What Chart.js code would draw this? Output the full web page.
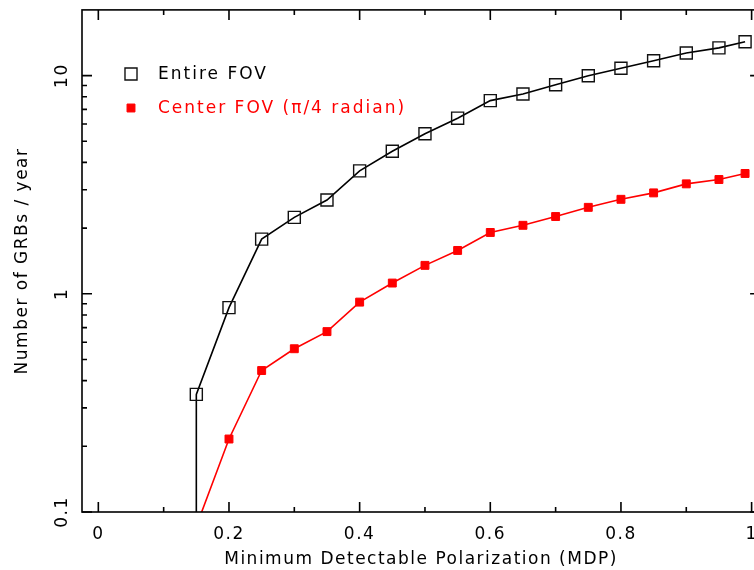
<!DOCTYPE html>
<html lang="en">
<head>
<meta charset="utf-8">
<title>GRB polarization rate</title>
<script src="https://cdn.jsdelivr.net/npm/chart.js@4.4.1/dist/chart.umd.min.js"></script>
<style>
  html, body { margin: 0; padding: 0; overflow: hidden; background: #fff; }
  #wrap { width: 754px; height: 570px; overflow: hidden; }
</style>
</head>
<body>
<div id="wrap"><canvas id="mdpChart" width="770" height="570"></canvas></div>
<script>
// MDP bins and rates (GRBs / year)
const mdp = [0.15, 0.20, 0.25, 0.30, 0.35, 0.40, 0.45, 0.50, 0.55, 0.60,
             0.65, 0.70, 0.75, 0.80, 0.85, 0.90, 0.95, 0.99];
const entireFov = [0.346, 0.864, 1.78, 2.24, 2.69, 3.66, 4.50, 5.41, 6.38, 7.68,
                   8.23, 9.08, 9.98, 10.8, 11.7, 12.7, 13.4, 14.3];
const centerFov = [0.086, 0.216, 0.445, 0.56, 0.671, 0.916, 1.12, 1.35, 1.58, 1.91,
                   2.06, 2.26, 2.49, 2.71, 2.90, 3.19, 3.34, 3.56];
// entire FOV rate falls to ~0 right at the first bin
const entireCutoff = 0.01;

const xTickValues = [0, 0.2, 0.4, 0.6, 0.8, 1];
const xMinorValues = [0.1, 0.3, 0.5, 0.7, 0.9];
const yTickValues = [0.1, 1, 10];
const yMinorValues = [0.2, 0.3, 0.4, 0.5, 0.6, 0.7, 0.8, 0.9, 2, 3, 4, 5, 6, 7, 8, 9];

const seriesNames = ["Entire FOV", "Center FOV (\u03c0/4 radian)"];

const SPACING = "1.5px";
Chart.defaults.font.family = "'DejaVu Sans', sans-serif";
Chart.defaults.font.size = 17;
Chart.defaults.color = "#000";

// inward ticks on all four sides plus the box
const frameTicks = {
  id: "frameTicks",
  beforeLayout(chart) { chart.ctx.letterSpacing = SPACING; },
  beforeDraw(chart) { chart.ctx.letterSpacing = SPACING; },
  afterDraw(chart) {
    const {ctx, chartArea: a, scales: {x, y}} = chart;
    ctx.save();
    ctx.strokeStyle = "#000";
    ctx.lineWidth = 1.6;
    ctx.strokeRect(a.left, a.top, a.right - a.left, a.bottom - a.top);
    ctx.beginPath();
    const xt = (vals, len) => vals.forEach(v => {
      const px = x.getPixelForValue(v);
      ctx.moveTo(px, a.bottom); ctx.lineTo(px, a.bottom - len);
      ctx.moveTo(px, a.top); ctx.lineTo(px, a.top + len);
    });
    const yt = (vals, len) => vals.forEach(v => {
      const py = y.getPixelForValue(v);
      ctx.moveTo(a.left, py); ctx.lineTo(a.left + len, py);
      ctx.moveTo(a.right, py); ctx.lineTo(a.right - len, py);
    });
    xt(xTickValues, 10); xt(xMinorValues, 5);
    yt(yTickValues, 10); yt(yMinorValues, 5);
    ctx.stroke();
    ctx.restore();
  }
};

// legend in the upper left of the plot
const insetLegend = {
  id: "insetLegend",
  afterDraw(chart) {
    const ctx = chart.ctx;
    const rows = [74, 108];
    ctx.save();
    ctx.letterSpacing = "2px";
    ctx.font = "17px 'DejaVu Sans', sans-serif";
    ctx.textBaseline = "middle";
    ctx.textAlign = "left";
    chart.data.datasets.forEach((ds, i) => {
      ctx.strokeStyle = ds.pointBorderColor;
      ctx.fillStyle = ds.pointBackgroundColor;
      ctx.lineWidth = ds.pointBorderWidth;
      Chart.helpers.drawPoint(ctx, {
        pointStyle: "rect", radius: ds.legendRadius, borderWidth: ds.pointBorderWidth
      }, 131, rows[i]);
      ctx.fillStyle = ds.textColor;
      ctx.fillText(ds.label, 158, rows[i] + 1);
    });
    ctx.restore();
  }
};

const ctx = document.getElementById("mdpChart").getContext("2d");
new Chart(ctx, {
  type: "line",
  data: {
    datasets: [
      {
        label: seriesNames[0],
        data: [{x: mdp[0], y: entireCutoff}].concat(mdp.map((m, i) => ({x: m, y: entireFov[i]}))),
        borderColor: "#000",
        borderWidth: 1.6,
        pointStyle: "rect",
        pointRadius: c => c.dataIndex === 0 ? 0 : 8.5,
        legendRadius: 8.5,
        pointBorderColor: "#111",
        pointBackgroundColor: "rgba(0,0,0,0)",
        pointBorderWidth: 1.4,
        textColor: "#000",
        clip: 0
      },
      {
        label: seriesNames[1],
        data: mdp.map((m, i) => ({x: m, y: centerFov[i]})),
        borderColor: "#ff0000",
        borderWidth: 1.6,
        pointStyle: "rect",
        pointRadius: 5.6,
        legendRadius: 5.6,
        pointBorderColor: "#ff0000",
        pointBackgroundColor: "#ff0000",
        pointBorderWidth: 1,
        textColor: "#ff0000",
        clip: 0
      }
    ]
  },
  options: {
    responsive: false,
    animation: false,
    devicePixelRatio: 1,
    layout: { padding: { left: 0, right: 8, top: 7, bottom: 0 } },
    plugins: { legend: { display: false }, tooltip: { enabled: false } },
    elements: { line: { tension: 0 } },
    scales: {
      x: {
        type: "linear",
        min: -0.025,
        max: 1.013,
        grid: { display: false, drawTicks: false },
        border: { display: false },
        afterBuildTicks: s => { s.ticks = xTickValues.map(v => ({value: v})); },
        afterFit: s => { s.height = 58; s.paddingLeft = 0; s.paddingRight = 0; },
        ticks: { padding: 12, maxRotation: 0, autoSkip: false, callback: v => String(v) },
        title: {
          display: true,
          text: "Minimum Detectable Polarization (MDP)",
          padding: { top: 0, bottom: 0 }
        }
      },
      y: {
        type: "logarithmic",
        min: 0.1,
        max: 20,
        grid: { display: false, drawTicks: false },
        border: { display: false },
        afterBuildTicks: s => { s.ticks = yTickValues.map(v => ({value: v})); },
        afterFit: s => { s.width = 82; s.paddingTop = 0; s.paddingBottom = 0; },
        ticks: {
          padding: 4, minRotation: 90, maxRotation: 90, crossAlign: "center",
          autoSkip: false, callback: v => String(v)
        },
        title: {
          display: true,
          text: "Number of GRBs / year",
          padding: { top: 12, bottom: 0 }
        }
      }
    }
  },
  plugins: [frameTicks, insetLegend]
});
</script>
</body>
</html>
